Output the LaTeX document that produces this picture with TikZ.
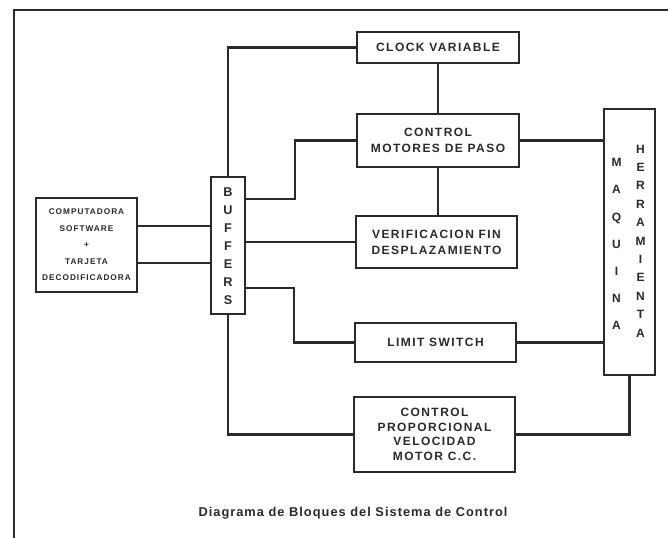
\documentclass[tikz,border=0pt]{standalone}
\usepackage{fontspec}
\usetikzlibrary{fit}
\newfontfamily\lbl[LetterSpace=12]{Liberation Sans}
\newfontfamily\captfont[LetterSpace=8]{Liberation Sans}
\definecolor{ink}{HTML}{2A2A2A}
\tikzset{
  blk/.style={draw=ink, line width=1.5pt, inner sep=0pt, fill=white},
  lab/.style={font=\lbl\bfseries\fontsize{9}{12}\selectfont, text=ink, align=center},
  wire/.style={draw=ink, line width=1.6pt},
}
\begin{document}
\begin{tikzpicture}[x=0.75pt,y=-0.75pt]
\useasboundingbox (0,0) rectangle (668,538);
% frame
\draw[ink, line width=1.4pt] (14,538) -- (14,10) -- (668,10);
% blocks
\node[blk, fit={(357,32)(519,63)}] (clock) {};
\node[lab] at (clock.center) {CLOCK VARIABLE};
\node[blk, fit={(357,114)(519,167)}] (mot) {};
\node[lab] at (mot.center) {CONTROL\\MOTORES DE PASO};
\node[blk, fit={(356,216)(517,268)}] (ver) {};
\node[lab] at (ver.center) {VERIFICACION FIN\\DESPLAZAMIENTO};
\node[blk, fit={(355,323)(516,362)}] (lim) {};
\node[lab] at (lim.center) {LIMIT SWITCH};
\node[blk, fit={(354,397)(515,472)}] (prop) {};
\node[lab, font=\lbl\bfseries\fontsize{9}{11}\selectfont] at (prop.center) {CONTROL\\PROPORCIONAL\\VELOCIDAD\\MOTOR C.C.};
\node[blk, fit={(604,109)(655,375)}] (maq) {};
\node[lab, font=\lbl\bfseries\fontsize{9}{20.3}\selectfont] at (616.5,244) {M\\A\\Q\\U\\I\\N\\A};
\node[lab, font=\lbl\bfseries\fontsize{9}{13.8}\selectfont] at (640.5,241) {H\\E\\R\\R\\A\\M\\I\\E\\N\\T\\A};
\node[blk, fit={(211,177)(245,314)}] (buf) {};
\node[lab, font=\lbl\bfseries\fontsize{9.5}{13.5}\selectfont] at (228,246) {B\\U\\F\\F\\E\\R\\S};
\node[blk, fit={(36,198)(137,292)}] (comp) {};
\node[lab, font=\lbl\bfseries\fontsize{6.2}{12.4}\selectfont] at (comp.center) {COMPUTADORA\\SOFTWARE\\+\\TARJETA\\DECODIFICADORA};
% connectors
\draw[wire] (buf.north) |- (clock.west);
\draw[wire] (clock.south) -- (clock.south |- mot.north);
\draw[wire] (mot.south) -- (mot.south |- ver.north);
\draw[wire] (buf.east |- 0,199) -- (295,199) |- (mot.west);
\draw[wire] (buf.east |- ver.west) -- (ver.west);
\draw[wire] (buf.east |- 0,288) -- (294,288) |- (lim.west);
\draw[wire] (buf.south) |- (prop.west);
\draw[wire] (prop.east) -| (maq.south);
\draw[wire] (mot.east) -- (mot.east -| maq.west);
\draw[wire] (lim.east) -- (lim.east -| maq.west);
\draw[wire] (comp.east |- 0,226) -- (buf.west |- 0,226);
\draw[wire] (comp.east |- 0,263) -- (buf.west |- 0,263);
% caption
\node[font=\captfont\bfseries\fontsize{9.6}{11}\selectfont, text=ink] (capt) at (353,513) {Diagrama de Bloques del Sistema de Control};
\end{tikzpicture}
\end{document}
